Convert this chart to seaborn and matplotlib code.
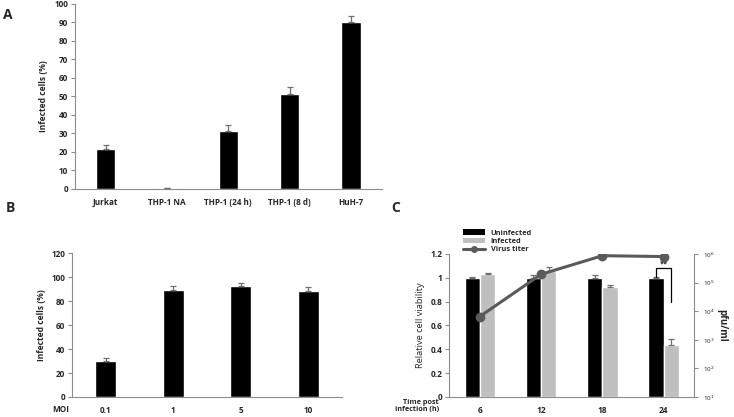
import numpy as np
import pandas as pd
import matplotlib
matplotlib.use("Agg")
import matplotlib.pyplot as plt
import seaborn as sns
from matplotlib.patches import Patch
from matplotlib.lines import Line2D

sns.set_style("white")
plt.rcParams["font.family"] = ["Open Sans", "DejaVu Sans"]

# ===== data =====
cells = ["Jurkat", "THP-1 NA", "THP-1 (24 h)", "THP-1 (8 d)", "HuH-7"]
cells_inf = [21.3, 0.3, 31.3, 51.0, 90.0]
cells_err = [2.2, 0.2, 3.0, 4.3, 3.5]

moi = ["0.1", "1", "5", "10"]
moi_inf = [30.2, 89.5, 92.5, 88.5]
moi_err = [2.5, 3.0, 2.5, 3.5]

hours = ["6", "12", "18", "24"]
uninf_via = [1.00, 1.00, 1.00, 1.00]
uninf_err = [0.01, 0.02, 0.02, 0.01]
inf_via = [1.03, 1.06, 0.92, 0.44]
inf_err = [0.01, 0.03, 0.02, 0.05]
titer = [6.5e3, 1.95e5, 8.7e5, 8.1e5]

AX_GREY = "#8c8c8c"
ERR_GREY = "#6f6f6f"
INF_GREY = "#bfbfbf"
LINE_GREY = "#5a5a5a"

fig = plt.figure(figsize=(7.34, 4.17), dpi=100)


def style_axes(ax):
    for s in ["top", "right"]:
        ax.spines[s].set_visible(False)
    for s in ["left", "bottom"]:
        ax.spines[s].set_color(AX_GREY)
        ax.spines[s].set_linewidth(0.8)
    ax.tick_params(axis="y", left=True, length=3, width=0.8, color=AX_GREY, pad=2)
    ax.tick_params(axis="x", bottom=False, pad=3)


def add_err(ax, bars, err, color=ERR_GREY):
    xs = [p.get_x() + p.get_width() / 2 for p in bars]
    ys = [p.get_height() for p in bars]
    ax.errorbar(xs, ys, yerr=[np.zeros(len(err)), err], fmt="none",
                ecolor=color, elinewidth=0.9, capsize=2.2, capthick=0.9, zorder=3)


# ===== A =====
axA = fig.add_axes([0.102, 0.547, 0.418, 0.444])
dfA = pd.DataFrame({"cell": cells, "inf": cells_inf})
sns.barplot(data=dfA, x="cell", y="inf", color="black", width=0.31,
            saturation=1, ax=axA, errorbar=None)
add_err(axA, axA.patches, cells_err)
axA.set_xlim(-0.5, 4.5)
axA.set_ylim(0, 100)
axA.set_yticks(range(0, 101, 10))
axA.set_xlabel("")
axA.set_ylabel("Infected cells (%)", fontsize=6.1, fontweight="bold", labelpad=4)
style_axes(axA)
for t in axA.get_xticklabels() + axA.get_yticklabels():
    t.set_fontsize(5.9)
    t.set_fontweight("bold")
fig.text(0.004, 0.965, "A", fontsize=10, fontweight="bold", ha="left", va="center")

# ===== B =====
axB = fig.add_axes([0.098, 0.048, 0.368, 0.345])
dfB = pd.DataFrame({"moi": moi, "inf": moi_inf})
sns.barplot(data=dfB, x="moi", y="inf", color="black", width=0.31,
            saturation=1, ax=axB, errorbar=None)
add_err(axB, axB.patches, moi_err)
axB.set_xlim(-0.5, 3.5)
axB.set_ylim(0, 120)
axB.set_yticks(range(0, 121, 20))
axB.set_xlabel("")
axB.set_ylabel("Infected cells (%)", fontsize=6.1, fontweight="bold", labelpad=4)
style_axes(axB)
for t in axB.get_xticklabels() + axB.get_yticklabels():
    t.set_fontsize(5.9)
    t.set_fontweight("bold")
fig.text(0.083, 0.017, "MOI", fontsize=5.9, fontweight="bold", ha="center", va="center")
fig.text(0.008, 0.5, "B", fontsize=10, fontweight="bold", ha="left", va="center")

# ===== C =====
axC = fig.add_axes([0.612, 0.048, 0.334, 0.343])
dfC = pd.DataFrame({
    "hour": hours * 2,
    "via": uninf_via + inf_via,
    "grp": ["Uninfected"] * 4 + ["Infected"] * 4,
})
sns.barplot(data=dfC, x="hour", y="via", hue="grp",
            palette={"Uninfected": "black", "Infected": INF_GREY},
            width=0.5, saturation=1, ax=axC, errorbar=None, legend=False)
bars = [p for p in axC.patches if p.get_height() > 0]
add_err(axC, bars[:4], uninf_err)
add_err(axC, bars[4:8], inf_err)
axC.set_xlim(-0.5, 3.5)
axC.set_ylim(0, 1.2)
axC.set_yticks([0, 0.2, 0.4, 0.6, 0.8, 1.0, 1.2])
axC.set_yticklabels(["0", "0.2", "0.4", "0.6", "0.8", "1", "1.2"])
axC.set_xlabel("")
axC.set_ylabel("Relative cell viability", fontsize=6.7, labelpad=4)
style_axes(axC)
for t in axC.get_xticklabels() + axC.get_yticklabels():
    t.set_fontsize(6)
    t.set_fontweight("bold")

# significance bracket at 24 h
bu, bi = bars[3], bars[7]
xl = bu.get_x() + bu.get_width() / 2
xr = bi.get_x() + bi.get_width() / 2
axC.plot([xl, xl, xr, xr], [1.01, 1.083, 1.083, 0.80], color="black", lw=0.9, zorder=4)
axC.text((xl + xr) / 2, 1.115, "**", fontsize=5.5, fontweight="bold", ha="center",
         va="center", zorder=6)

# virus titer on right log axis
axR = axC.twinx()
axR.plot(range(len(hours)), titer, color=LINE_GREY, lw=2.2, marker="o",
         markersize=6, zorder=5)
axR.set_yscale("log")
axR.set_ylim(1e1, 1e6)
axR.set_yticks([1e1, 1e2, 1e3, 1e4, 1e5, 1e6])
axR.set_yticklabels(["10$^{1}$", "10$^{2}$", "10$^{3}$", "10$^{4}$", "10$^{5}$", "10$^{6}$"],
                    fontsize=4.5)
axR.minorticks_off()
for s in ["top", "left", "bottom"]:
    axR.spines[s].set_visible(False)
axR.spines["right"].set_color(AX_GREY)
axR.spines["right"].set_linewidth(0.8)
axR.tick_params(axis="y", right=True, length=3, width=0.8, color=AX_GREY, pad=3)
axR.set_ylabel("pfu/ml", fontsize=7, fontweight="bold", rotation=270, labelpad=9)

handles = [
    Patch(facecolor="black", edgecolor="none", label="Uninfected"),
    Patch(facecolor=INF_GREY, edgecolor="none", label="Infected"),
    Line2D([0], [0], color=LINE_GREY, lw=2.2, marker="o", markersize=4, label="Virus titer"),
]
leg = axC.legend(handles=handles, loc="lower left", bbox_to_anchor=(0.04, 0.98),
                 frameon=False, fontsize=5.3, handlelength=3.0, handleheight=0.7,
                 labelspacing=0.15, borderpad=0, handletextpad=0.8)
for t in leg.get_texts():
    t.set_fontweight("bold")

fig.text(0.598, 0.026, "Time post\ninfection (h)", fontsize=5.2, fontweight="bold",
         ha="right", va="center", linespacing=1.1)
fig.text(0.533, 0.5, "C", fontsize=10, fontweight="bold", ha="left", va="center")

fig.savefig("out.png", dpi=100)
